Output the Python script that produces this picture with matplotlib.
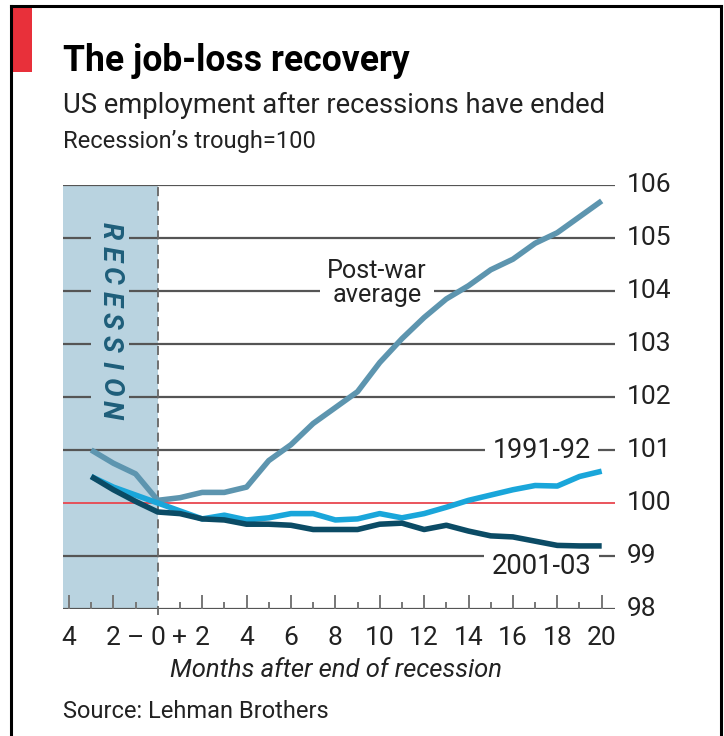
import matplotlib
matplotlib.use("Agg")
import matplotlib.pyplot as plt
from matplotlib import font_manager as fm
from matplotlib.patches import Rectangle
from matplotlib.lines import Line2D

# ---- data -------------------------------------------------------------
months = list(range(-3, 21))
postwar = [101.0, 100.75, 100.55, 100.05,
           100.1, 100.2, 100.2, 100.3, 100.8, 101.1, 101.5, 101.8, 102.1, 102.65,
           103.1, 103.5, 103.85, 104.1, 104.4, 104.6, 104.9, 105.1, 105.4, 105.7]
r1991 = [100.5, 100.3, 100.15, 100.0,
         99.85, 99.7, 99.77, 99.68, 99.72, 99.8, 99.8, 99.68, 99.7, 99.8,
         99.72, 99.8, 99.92, 100.05, 100.15, 100.25, 100.33, 100.32, 100.5, 100.6]
r2001 = [100.5, 100.25, 100.03, 99.83,
         99.8, 99.7, 99.68, 99.6, 99.6, 99.58, 99.5, 99.5, 99.5, 99.6,
         99.62, 99.5, 99.58, 99.47, 99.38, 99.36, 99.28, 99.2, 99.19, 99.19]
y_ticks = [98, 99, 100, 101, 102, 103, 104, 105, 106]
x_tick_pos = [-4, -2, -1, 0, 1, 2, 4, 6, 8, 10, 12, 14, 16, 18, 20]
x_tick_lab = ["4", "2", "\u2013", "0", "+", "2", "4", "6", "8", "10", "12",
              "14", "16", "18", "20"]
recession_start, recession_end = -4.27, 0

# ---- fonts ------------------------------------------------------------
names = {f.name for f in fm.fontManager.ttflist}
FONT = "Liberation Sans Narrow" if "Liberation Sans Narrow" in names else "Roboto"
plt.rcParams["font.family"] = [FONT, "DejaVu Sans"]

W, H = 724, 736
fig = plt.figure(figsize=(W / 100, H / 100), dpi=100)
fig.patch.set_facecolor("white")

GRID = "#555555"
C_POST = "#5d95af"
C_91 = "#1aa6da"
C_01 = "#0b4b65"
C_RED = "#e8474f"
C_SHADE = "#b9d3e0"
TXT = "#222222"

# axes placement in pixels (left, right, top, bottom)
L, R, T, B = 63, 615, 185, 609
XMIN, XMAX = -4.27, 20.6
ax = fig.add_axes([L / W, 1 - B / H, (R - L) / W, (B - T) / H])
ax.set_xlim(XMIN, XMAX)
ax.set_ylim(98, 106)
for s in ax.spines.values():
    s.set_visible(False)
ax.set_facecolor("none")


def px_to_month(xp):
    return XMIN + (xp - L) * (XMAX - XMIN) / (R - L)


def px_to_val(yp):
    return 106 - (yp - T) * 8 / (B - T)


# recession shading
ax.axvspan(recession_start, recession_end, color=C_SHADE, zorder=0, lw=0)

# horizontal grid
for v in y_ticks:
    if v == 100:
        ax.axhline(v, color=C_RED, lw=1.3, zorder=1)
    else:
        ax.axhline(v, color=GRID, lw=1.6, zorder=1)

# ticks along the bottom
ax.set_yticks([])
ax.set_xticks([m for m in range(-4, 21, 2) if m != 0])
ax.set_xticks([m for m in range(-3, 21, 2)], minor=True)
ax.tick_params(axis="x", which="major", direction="in", length=10, width=1.4,
               color="#777777", labelbottom=False)
ax.tick_params(axis="x", which="minor", direction="in", length=5, width=1.4,
               color="#777777")

# dashed end-of-recession marker
ax.plot([0, 0], [97.88, 106], color="#666666", lw=1.3, ls=(0, (5, 3)),
        zorder=2, clip_on=False)

# series
ax.plot(months, postwar, color=C_POST, lw=4.0, zorder=4, solid_capstyle="butt")
ax.plot(months, r1991, color=C_91, lw=4.0, zorder=5, solid_capstyle="butt")
ax.plot(months, r2001, color=C_01, lw=4.0, zorder=6, solid_capstyle="butt")

fig.canvas.draw()
renderer = fig.canvas.get_renderer()


def fit(t, width_px):
    bb = t.get_window_extent(renderer)
    t.set_fontsize(t.get_fontsize() * width_px / bb.width)


def ftext(x, y, s, **kw):
    return fig.text(x / W, 1 - y / H, s, **kw)


# series labels with knock-out backgrounds
t = ax.text(px_to_month(377), px_to_val(283), "Post-war\naverage",
            ha="center", va="center", fontsize=18, color=TXT,
            linespacing=1.05, zorder=3,
            bbox=dict(facecolor="white", edgecolor="none", pad=5))
fit(t, 100)
t = ax.text(17.3, 101.0, "1991-92", ha="center", va="center", fontsize=18,
            color=TXT, zorder=3,
            bbox=dict(facecolor="white", edgecolor="none", pad=5))
fit(t, 98)
t = ax.text(17.3, 98.8, "2001-03", ha="center", va="center", fontsize=18,
            color=TXT, zorder=3,
            bbox=dict(facecolor="white", edgecolor="none", pad=5))
fit(t, 100)

# vertical RECESSION label, one letter at a time, on a shaded knock-out
word = "RECESSION"
x_lab = px_to_month(110)
y_first, y_last = 231, 410
ax.add_patch(Rectangle((px_to_month(91), px_to_val(422)),
                       px_to_month(129) - px_to_month(91),
                       px_to_val(216) - px_to_val(422),
                       facecolor=C_SHADE, edgecolor="none", zorder=2))
for i, ch in enumerate(word):
    yp = y_first + i * (y_last - y_first) / (len(word) - 1)
    ax.text(x_lab, px_to_val(yp), ch, rotation=-90, ha="center", va="center",
            fontsize=20, color="#1e5e7a", fontstyle="italic",
            fontweight="bold", zorder=3)

# right-hand value labels
for v in y_ticks:
    ytxt = T + (106 - v) * (B - T) / 8
    ftext(627, ytxt, str(v), ha="left", va="center", fontsize=19, color=TXT)

# bottom labels
for p, s in zip(x_tick_pos, x_tick_lab):
    xp = L + (p - XMIN) * (R - L) / (XMAX - XMIN)
    ftext(xp, 638, s, ha="center", va="center", fontsize=19, color=TXT)

t = ftext(336, 670, "Months after end of recession", ha="center", va="center",
          fontsize=18, fontstyle="italic", color=TXT)
fit(t, 333)
t = ftext(63, 712, "Source: Lehman Brothers", ha="left", va="center",
          fontsize=16, color=TXT)
fit(t, 266)

# headings
t = ftext(63, 71, "The job-loss recovery", ha="left", va="baseline",
          fontsize=24, fontweight="bold", color="black")
fit(t, 347)
t = ftext(63, 113, "US employment after recessions have ended", ha="left",
          va="baseline", fontsize=18, color=TXT)
fit(t, 542)
t = ftext(63, 148, "Recession\u2019s trough=100", ha="left", va="baseline",
          fontsize=14, color=TXT)
fit(t, 255)

# frame and red tab
for xs, ys in (([11, 11], [736, 6]), ([721, 721], [736, 6]),
               ([11, 721], [6, 6])):
    fig.add_artist(Line2D([x / W for x in xs], [1 - y / H for y in ys],
                          color="black", lw=2.2, transform=fig.transFigure))
fig.add_artist(Rectangle((12 / W, 1 - 72 / H), 20 / W, 65 / H,
                         facecolor="#e8303a", edgecolor="none",
                         transform=fig.transFigure))

fig.savefig("out.png", dpi=100, facecolor="white")
